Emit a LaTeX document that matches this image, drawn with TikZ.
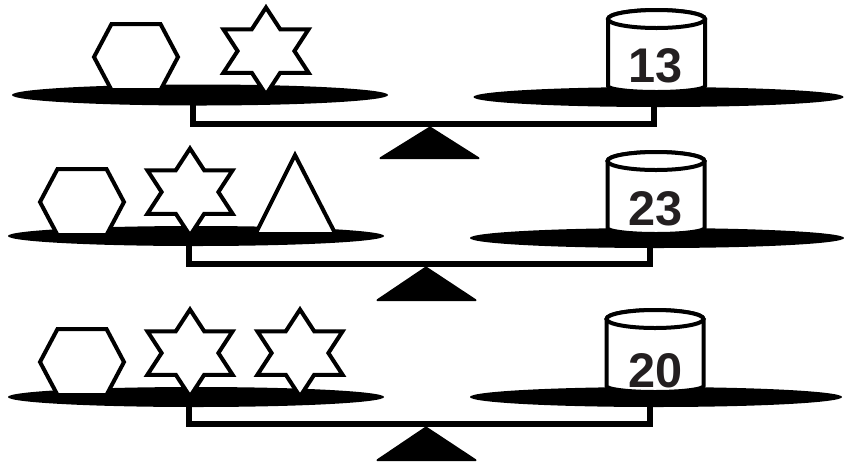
\documentclass[tikz,border=0pt]{standalone}
\usepackage{fontspec}
\setmainfont{Liberation Sans}
\definecolor{txt}{HTML}{231F20}
\tikzset{
  plate/.style={fill=black},
  shapeline/.style={draw=black, fill=white, line width=3pt, line join=miter},
  barline/.style={draw=black, line width=4.5pt, line join=miter},
  fulcrum/.style={fill=black, draw=black, line width=1.5pt, line join=round},
  weightlabel/.style={font=\bfseries\fontsize{36.5}{36.5}\selectfont, text=txt, inner sep=0pt},
  hexa/.pic={\path[shapeline] (-42,0) -- (-24.5,-33) -- (24.5,-33) -- (42,0) -- (24.5,33) -- (-24.5,33) -- cycle;},
  hexstar/.pic={\path[shapeline] (0,-43.5) -- (14.2,-21.75) -- (42.6,-21.75) -- (28.4,0) -- (42.6,21.75) -- (14.2,21.75)
      -- (0,43.5) -- (-14.2,21.75) -- (-42.6,21.75) -- (-28.4,0) -- (-42.6,-21.75) -- (-14.2,-21.75) -- cycle;},
  drum/.pic={
    \path[shapeline] (-48.5,0) -- (-48.5,67) arc[start angle=180, end angle=0, x radius=48.5, y radius=6]
       -- (48.5,0) arc[start angle=0, end angle=-180, x radius=48.5, y radius=9] -- cycle;
    \path[shapeline] (0,0) ellipse[x radius=48.5, y radius=9];
  }
}
\begin{document}
\begin{tikzpicture}[x=0.75pt, y=-0.75pt]
\useasboundingbox (0,0) rectangle (844,462);
% beams
\draw[barline] (193,95) -- (193,124) -- (654,124) -- (654,96.5);
\draw[barline] (189,236) -- (189,264) -- (650,264) -- (650,238);
\draw[barline] (189,397) -- (189,424) -- (650,424) -- (650,397);
% fulcrums
\path[fulcrum] (430,127.5) -- (380.5,158.2) -- (478.5,158.2) -- cycle;
\path[fulcrum] (426,267.5) -- (377.5,300.2) -- (475.5,300.2) -- cycle;
\path[fulcrum] (426,427.5) -- (377.5,460.2) -- (475.5,460.2) -- cycle;
% plates
\path[plate] (200,95) ellipse[x radius=188, y radius=10.5];
\path[plate] (658.5,97) ellipse[x radius=185, y radius=10];
\path[plate] (196,236) ellipse[x radius=188, y radius=10];
\path[plate] (657,238) ellipse[x radius=187, y radius=10];
\path[plate] (196,397) ellipse[x radius=188, y radius=10];
\path[plate] (656,397) ellipse[x radius=186, y radius=10];
% row 1 shapes
\pic at (136,57) {hexa};
\pic at (266,51) {hexstar};
% row 2 shapes
\pic at (82,202) {hexa};
\pic at (190,192) {hexstar};
\path[shapeline] (295,155) -- (335.5,234) -- (255.5,234) -- cycle;
% row 3 shapes
\pic at (82,362) {hexa};
\pic at (190,353) {hexstar};
\pic at (300,353) {hexstar};
% weights
\pic at (656.5,19) {drum};
\pic at (656,161) {drum};
\pic at (655,319) {drum};
\node[weightlabel] (w1) at (656,65.5) {13};
\node[weightlabel] (w2) at (656,209) {23};
\node[weightlabel] (w3) at (656,370.5) {20};
\end{tikzpicture}
\end{document}
